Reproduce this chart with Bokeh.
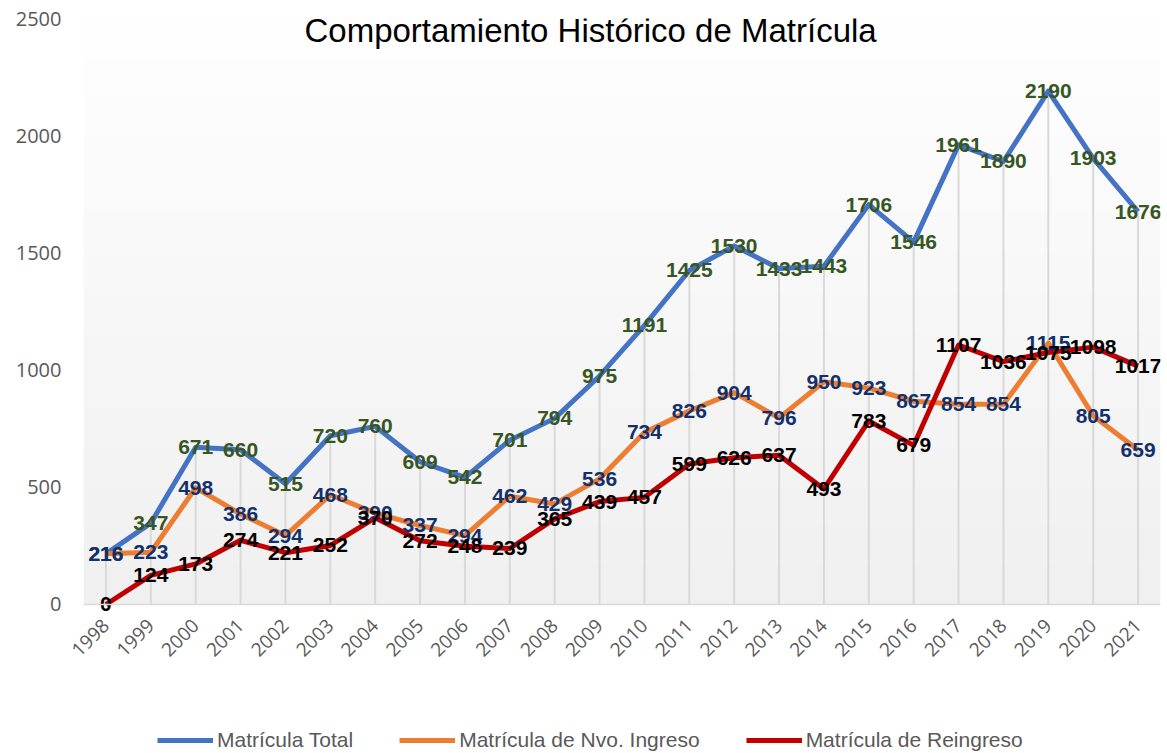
import numpy as np
from bokeh.plotting import figure
from bokeh.layouts import column
from bokeh.models import (ColumnDataSource, FixedTicker, Legend, LegendItem, Label, Span)
from bokeh.core.properties import value
from bokeh.embed import file_html
from bokeh.resources import INLINE

# ---- data ----
years = ["1998", "1999", "2000", "2001", "2002", "2003", "2004", "2005", "2006", "2007",
         "2008", "2009", "2010", "2011", "2012", "2013", "2014", "2015", "2016", "2017",
         "2018", "2019", "2020", "2021"]
total = [216, 347, 671, 660, 515, 720, 760, 609, 542, 701, 794, 975, 1191, 1425, 1530,
         1433, 1443, 1706, 1546, 1961, 1890, 2190, 1903, 1676]
nvo_ingreso = [216, 223, 498, 386, 294, 468, 390, 337, 294, 462, 429, 536, 734, 826, 904,
               796, 950, 923, 867, 854, 854, 1115, 805, 659]
reingreso = [0, 124, 173, 274, 221, 252, 370, 272, 248, 239, 365, 439, 457, 599, 626,
             637, 493, 783, 679, 1107, 1036, 1075, 1098, 1017]
y_ticks = [0, 500, 1000, 1500, 2000, 2500]
title_text = "Comportamiento Histórico de Matrícula"
series_names = ["Matrícula Total", "Matrícula de Nvo. Ingreso", "Matrícula de Reingreso"]
series_colors = ["#4472C4", "#ED7D31", "#C00000"]

y_max = y_ticks[-1]
y_pad = 47  # small room under the zero line so the "0" label is not clipped
idx = list(range(len(years)))

src = ColumnDataSource(dict(
    x=idx, total=total, nvo=nvo_ingreso, rein=reingreso, zero=[0] * len(years),
    total_t=[str(v) for v in total], nvo_t=[str(v) for v in nvo_ingreso],
    rein_t=[str(v) for v in reingreso],
))

p = figure(width=1167, height=723, output_backend="svg", toolbar_location=None,
           x_range=(-0.5, len(years) - 0.5), y_range=(-y_pad, y_max),
           min_border_left=83, min_border_right=7, min_border_top=18, min_border_bottom=108)
p.outline_line_color = None
p.xgrid.grid_line_color = None
p.ygrid.grid_line_color = None
p.background_fill_color = "white"
p.border_fill_color = "white"

# gradient background of the plot area
n = 256
shade = np.linspace(240, 255, n).astype(np.uint32)  # bottom row first
img = (255 << 24) | (shade << 16) | (shade << 8) | shade
img = img.reshape(n, 1).astype(np.uint32)
p.image_rgba(image=[img], x=-0.5, y=0, dw=len(years), dh=y_max, level="image")

# horizontal category axis line at zero
p.add_layout(Span(location=0, dimension="width", line_color="#d9d9d9", line_width=1.5))

# drop lines
p.segment(x0="x", y0="zero", x1="x", y1="total", source=src, line_color="#d9d9d9", line_width=2)

# series lines
p.line("x", "total", source=src, line_color=series_colors[0], line_width=5, line_join="round")
p.line("x", "nvo", source=src, line_color=series_colors[1], line_width=5, line_join="round")
p.line("x", "rein", source=src, line_color=series_colors[2], line_width=5, line_join="round")

# data labels
lab_kw = dict(text_font=value("Liberation Sans"), text_font_style="bold", text_font_size="21px",
              text_align="center", text_baseline="middle", source=src)
p.text("x", "total", text="total_t", text_color="#375623", **lab_kw)
p.text("x", "nvo", text="nvo_t", text_color="#12306B", **lab_kw)
p.text("x", "rein", text="rein_t", text_color="#000000", **lab_kw)

# title inside the chart area
p.add_layout(Label(x=10.8, y=2450, text=title_text, text_align="center", text_baseline="middle",
                   text_font="Liberation Sans", text_font_size="33px", text_color="#000000"))

# axes
p.yaxis.ticker = FixedTicker(ticks=y_ticks)
p.yaxis.axis_line_color = None
p.yaxis.major_tick_line_color = None
p.yaxis.minor_tick_line_color = None
p.yaxis.major_tick_out = 0
p.yaxis.minor_tick_out = 0
p.yaxis.major_label_text_font = "Open Sans"
p.yaxis.major_label_text_font_size = "20px"
p.yaxis.major_label_text_color = "#595959"
p.yaxis.major_label_standoff = 22

p.xaxis.ticker = FixedTicker(ticks=idx)
p.xaxis.major_label_overrides = {i: y for i, y in zip(idx, years)}
p.xaxis.axis_line_color = None
p.xaxis.major_tick_line_color = None
p.xaxis.minor_tick_line_color = None
p.xaxis.major_tick_out = 0
p.xaxis.minor_tick_out = 0
p.xaxis.major_label_text_font = "Open Sans"
p.xaxis.major_label_text_font_size = "19px"
p.xaxis.major_label_text_color = "#595959"
p.xaxis.major_label_orientation = np.pi / 4
p.xaxis.major_label_standoff = 7

# legend strip below the chart (its frame is aligned with the chart's frame)
lf = figure(width=1167, height=30, output_backend="svg", toolbar_location=None,
            x_range=(0, 1), y_range=(0, 1),
            min_border_left=83, min_border_right=7, min_border_top=0, min_border_bottom=0)
lf.axis.visible = False
lf.xgrid.grid_line_color = None
lf.ygrid.grid_line_color = None
lf.outline_line_color = None
lf.background_fill_color = "white"
lf.border_fill_color = "white"
items = []
for name, col in zip(series_names, series_colors):
    r = lf.line(x=[np.nan], y=[np.nan], line_color=col, line_width=5)
    items.append(LegendItem(label=name, renderers=[r]))
legend = Legend(items=items, location=(74, 1), orientation="horizontal",
                glyph_width=56, glyph_height=20, label_standoff=4, spacing=46,
                padding=0, margin=0, background_fill_alpha=0, border_line_alpha=0,
                label_text_font="Liberation Sans", label_text_font_size="21px",
                label_text_color="#595959")
lf.add_layout(legend, "center")

layout = column(p, lf, spacing=0)
open("out.html", "w").write(file_html(layout, INLINE))
